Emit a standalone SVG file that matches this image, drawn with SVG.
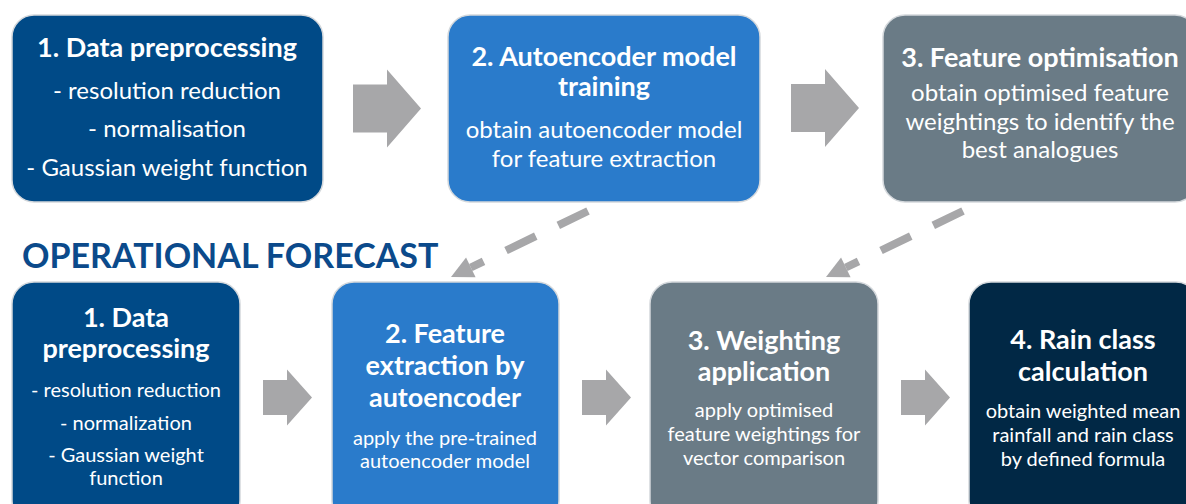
<svg xmlns="http://www.w3.org/2000/svg" width="1186" height="504" viewBox="0 0 1186 504">
  <style>
    text { font-family: Lato, "Liberation Sans", sans-serif; fill: #ffffff; text-anchor: middle; }
    .h { font-weight: bold; font-size: 27px; }
    .t { font-size: 24px; }
    .s { font-size: 20px; }
    .box { stroke: #d4d8dc; stroke-width: 1.5; }
    .navy { fill: #004a87; }
    .blue { fill: #2a7bcb; }
    .slate { fill: #6a7b86; }
    .dark { fill: #012845; }
    .flow { fill: #a7a7a9; }
    .dash { stroke: #a7a7a9; stroke-width: 8; fill: none; stroke-dasharray: 33 25; }
    .title { font-weight: bold; font-size: 34px; fill: #0b4a8b; text-anchor: start; }
  </style>
  <defs>
    <path id="bigArrow" d="M0 -24 H34 V-39 L68 0 L34 39 V24 H0 Z"/>
    <path id="smallArrow" d="M0 -17.5 H24 V-28 L49 0 L24 28 V17.5 H0 Z"/>
    <path id="dashHead" d="M0 0 L22 -11 L22 11 Z"/>
  </defs>

  <rect width="1186" height="504" fill="#ffffff"/>

  <!-- training chain -->
  <g id="train-preprocessing">
    <rect class="box navy" x="12" y="15" width="311" height="187" rx="22"/>
    <text class="h" x="167" y="57">1. Data preprocessing</text>
    <text class="t" x="167" y="99">- resolution reduction</text>
    <text class="t" x="167" y="137">- normalisation</text>
    <text class="t" x="167" y="176">- Gaussian weight function</text>
  </g>
  <g id="train-autoencoder">
    <rect class="box blue" x="448" y="15" width="312" height="187" rx="22"/>
    <text class="h" x="604" y="66">2. Autoencoder model</text>
    <text class="h" x="604" y="96">training</text>
    <text class="t" x="604" y="138">obtain autoencoder model</text>
    <text class="t" x="604" y="167">for feature extraction</text>
  </g>
  <g id="train-optimisation">
    <rect class="box slate" x="883" y="15" width="314" height="187" rx="22"/>
    <text class="h" x="1040" y="67">3. Feature optimisation</text>
    <text class="t" x="1040" y="101">obtain optimised feature</text>
    <text class="t" x="1040" y="130">weightings to identify the</text>
    <text class="t" x="1040" y="158">best analogues</text>
  </g>

  <text id="section-title" class="title" x="22" y="268">OPERATIONAL FORECAST</text>

  <!-- forecast chain -->
  <g id="fc-preprocessing">
    <rect class="box navy" x="12" y="282" width="228" height="240" rx="22"/>
    <text class="h" x="126" y="327">1. Data</text>
    <text class="h" x="126" y="358">preprocessing</text>
    <text class="s" x="126" y="397">- resolution reduction</text>
    <text class="s" x="126" y="430">- normalization</text>
    <text class="s" x="126" y="462">- Gaussian weight</text>
    <text class="s" x="126" y="485">function</text>
  </g>
  <g id="fc-extraction">
    <rect class="box blue" x="332" y="282" width="227" height="240" rx="22"/>
    <text class="h" x="445" y="343">2. Feature</text>
    <text class="h" x="445" y="375">extraction by</text>
    <text class="h" x="445" y="407">autoencoder</text>
    <text class="s" x="445" y="445">apply the pre-trained</text>
    <text class="s" x="445" y="468">autoencoder model</text>
  </g>
  <g id="fc-weighting">
    <rect class="box slate" x="650" y="282" width="228" height="240" rx="22"/>
    <text class="h" x="764" y="350">3. Weighting</text>
    <text class="h" x="764" y="381">application</text>
    <text class="s" x="764" y="417">apply optimised</text>
    <text class="s" x="764" y="441">feature weightings for</text>
    <text class="s" x="764" y="465">vector comparison</text>
  </g>
  <g id="fc-rainclass">
    <rect class="box dark" x="969" y="282" width="229" height="240" rx="22"/>
    <text class="h" x="1083" y="349">4. Rain class</text>
    <text class="h" x="1083" y="381">calculation</text>
    <text class="s" x="1083" y="418">obtain weighted mean</text>
    <text class="s" x="1083" y="442">rainfall and rain class</text>
    <text class="s" x="1083" y="466">by defined formula</text>
  </g>

  <g id="connectors">
    <use href="#bigArrow" class="flow" x="353" y="108.5"/>
    <use href="#bigArrow" class="flow" x="791" y="108"/>
    <use href="#smallArrow" class="flow" x="263" y="397.5"/>
    <use href="#smallArrow" class="flow" x="582" y="397.5"/>
    <use href="#smallArrow" class="flow" x="901" y="397.5"/>
    <line class="dash" x1="588" y1="211" x2="470.8" y2="267.5"/>
    <use href="#dashHead" class="flow" transform="translate(451 277) rotate(-25.7)"/>
    <line class="dash" x1="963" y1="211" x2="845.8" y2="267.5"/>
    <use href="#dashHead" class="flow" transform="translate(826 277) rotate(-25.7)"/>
  </g>
</svg>
